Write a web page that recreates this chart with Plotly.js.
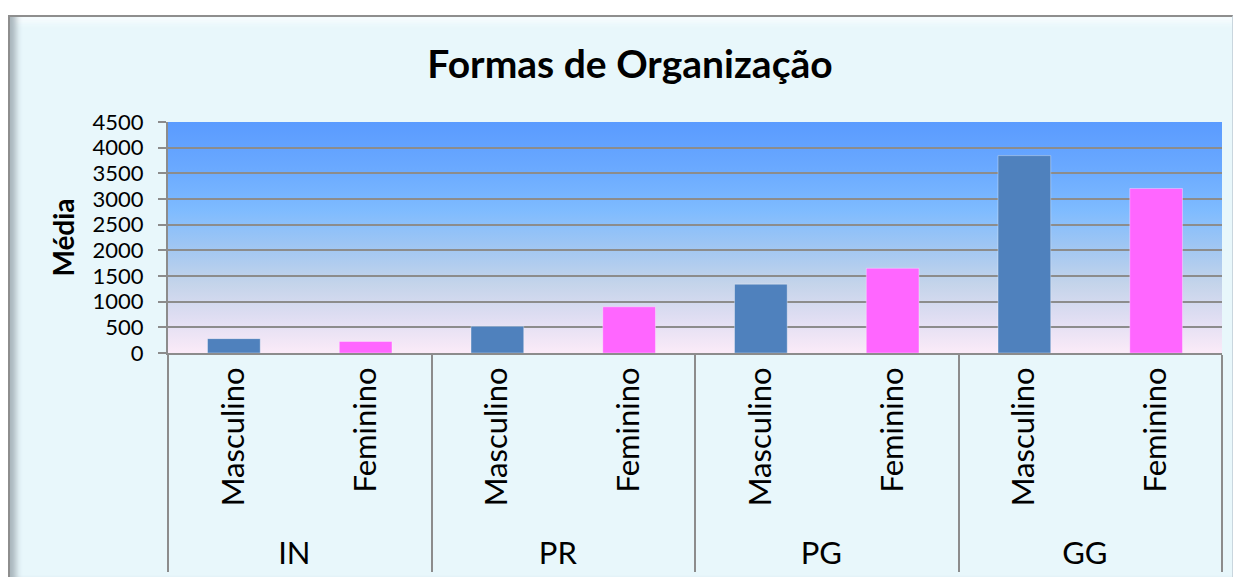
<!DOCTYPE html>
<html>
<head>
<meta charset="utf-8">
<script src="https://cdn.plot.ly/plotly-3.0.1.min.js"></script>
<style>
  html, body { margin:0; padding:0; background:#ffffff; width:1239px; height:577px; overflow:hidden; }
  #frame { position:absolute; left:8px; top:15px; width:1222px; height:566px; background:#E8F7FB;
           border-top:2px solid #8E8E8E; border-left:2px solid #8E8E8E; border-right:1px solid #C9D6DE;
           box-shadow: inset 12px 0 6px -6px #A9B6BC, inset 0 14px 6px -8px #F6FCFE, inset 0 -10px 4px -6px #C8D6E4; }
  #grad { position:absolute; left:168px; top:122px; width:1054px; height:231px;
          background:linear-gradient(to bottom, #5A9BFF 0%, #6AA9FF 20%, #7EBBFF 38%, #A2C7F2 55%, #C4D4EA 70%, #DEDDF2 84%, #FBEBF8 100%); }
  #chart { position:absolute; left:0; top:0; width:1239px; height:577px; }
</style>
</head>
<body>
<div id="frame"></div>
<div id="grad"></div>
<div id="chart"></div>
<script>
const groups = ['IN', 'PR', 'PG', 'GG'];
const sexes = ['Masculino', 'Feminino'];
const masculino = [280, 520, 1340, 3845];
const feminino = [225, 900, 1650, 3205];
const sexColors = ['#4F81BD', '#FF66FF'];
const yTicks = [0, 500, 1000, 1500, 2000, 2500, 3000, 3500, 4000, 4500];

const xOuter = [], xInner = [], yVals = [], colors = [];
groups.forEach((g, i) => {
  [masculino[i], feminino[i]].forEach((v, j) => {
    xOuter.push(g); xInner.push(sexes[j]); yVals.push(v); colors.push(sexColors[j]);
  });
});

const FONT = 'Lato, Carlito, Calibri, "Open Sans", sans-serif';

const trace = {
  type: 'bar',
  x: [xOuter, xInner],
  y: yVals,
  width: 0.4,
  marker: { color: colors, line: { color: 'rgba(255,255,255,0.35)', width: 1 } },
  hoverinfo: 'none'
};

const layout = {
  width: 1239, height: 577,
  margin: { l: 168, r: 17, t: 122, b: 224, pad: 0 },
  paper_bgcolor: 'rgba(0,0,0,0)',
  plot_bgcolor: 'rgba(0,0,0,0)',
  showlegend: false,
  hovermode: false,
  font: { family: FONT, color: '#000000' },
  title: { text: '<b>Formas de Organização</b>', font: { family: FONT, size: 39, color: '#000000' },
           x: 0.5085, xanchor: 'center', xref: 'container', y: 0.888, yanchor: 'middle', yref: 'container' },
  xaxis: {
    type: 'multicategory',
    tickangle: -90,
    tickfont: { family: FONT, size: 31, color: '#000000' },
    showline: true, linecolor: '#8C8C8C', linewidth: 2,
    showdividers: true, dividercolor: '#8C8C8C', dividerwidth: 2,
    ticks: '', showgrid: false, zeroline: false
  },
  yaxis: {
    range: [0, 4500],
    tickvals: yTicks,
    ticktext: yTicks.map(String),
    tickfont: { family: FONT, size: 22, color: '#000000' },
    ticks: 'outside', ticklen: 8, tickcolor: '#8C8C8C', tickwidth: 2,
    ticklabelstandoff: 10,
    showline: true, linecolor: '#8C8C8C', linewidth: 2,
    showgrid: true, gridcolor: '#8C8C8C', gridwidth: 2,
    zeroline: false,
    title: { text: '<b>Média</b>', font: { family: FONT, size: 28, color: '#000000' }, standoff: 10 }
  }
};

Plotly.newPlot('chart', [trace], layout, { displayModeBar: false, staticPlot: true });
</script>
</body>
</html>
